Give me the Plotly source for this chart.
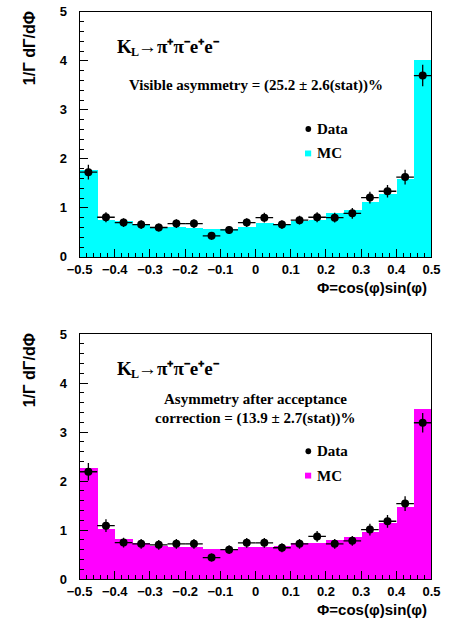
import plotly.graph_objects as go

# ---------------- data ----------------
bin_centers = [-0.475, -0.425, -0.375, -0.325, -0.275, -0.225, -0.175, -0.125, -0.075, -0.025,
               0.025, 0.075, 0.125, 0.175, 0.225, 0.275, 0.325, 0.375, 0.425, 0.475]
bin_halfwidth = [0.025] * 20

mc_top = [1.78, 0.76, 0.73, 0.68, 0.62, 0.62, 0.60, 0.57, 0.58, 0.62,
          0.70, 0.68, 0.73, 0.75, 0.89, 0.96, 1.13, 1.29, 1.60, 4.02]
data_top = [1.73, 0.81, 0.70, 0.66, 0.60, 0.68, 0.68, 0.43, 0.55, 0.70,
            0.80, 0.66, 0.75, 0.81, 0.80, 0.89, 1.21, 1.34, 1.63, 3.70]
err_top = [0.15, 0.10, 0.09, 0.09, 0.08, 0.09, 0.09, 0.08, 0.08, 0.09,
           0.10, 0.09, 0.09, 0.10, 0.10, 0.11, 0.12, 0.13, 0.15, 0.22]

mc_bot = [2.26, 1.02, 0.82, 0.74, 0.68, 0.66, 0.645, 0.62, 0.61, 0.645,
          0.65, 0.68, 0.74, 0.745, 0.79, 0.86, 0.96, 1.15, 1.48, 3.47]
data_bot = [2.19, 1.09, 0.745, 0.72, 0.70, 0.72, 0.72, 0.44, 0.60, 0.74,
            0.74, 0.64, 0.72, 0.87, 0.72, 0.78, 1.01, 1.18, 1.54, 3.19]
err_bot = [0.18, 0.13, 0.10, 0.10, 0.10, 0.10, 0.10, 0.08, 0.09, 0.10,
           0.10, 0.09, 0.10, 0.11, 0.10, 0.10, 0.12, 0.13, 0.15, 0.20]

x_tickvals = [-0.5, -0.4, -0.3, -0.2, -0.1, 0, 0.1, 0.2, 0.3, 0.4, 0.5]
x_ticktext = ["\u22120.5", "\u22120.4", "\u22120.3", "\u22120.2", "\u22120.1", "0",
              "0.1", "0.2", "0.3", "0.4", "0.5"]
y_tickvals = [0, 1, 2, 3, 4, 5]
y_ticktext = ["0", "1", "2", "3", "4", "5"]

W, H = 450, 632


def px(x):
    return x / W


def py(y):
    return 1 - y / H


SANS = "Liberation Sans, Arial, sans-serif"
SERIF = "Liberation Serif, Times New Roman, serif"

fig = go.Figure()

panels = [
    dict(mc=mc_top, data=data_top, err=err_top, color="#00FFFF", xa="x", ya="y"),
    dict(mc=mc_bot, data=data_bot, err=err_bot, color="#FF00FF", xa="x2", ya="y2"),
]

for p in panels:
    fig.add_trace(go.Bar(
        x=bin_centers, y=p["mc"], width=[0.05] * 20,
        marker=dict(color=p["color"], line=dict(width=0)),
        xaxis=p["xa"], yaxis=p["ya"], showlegend=False, name="MC",
    ))
    fig.add_trace(go.Scatter(
        x=bin_centers, y=p["data"], mode="markers",
        marker=dict(color="black", size=8, symbol="circle"),
        error_x=dict(type="data", array=bin_halfwidth, color="black", thickness=1.3, width=0),
        error_y=dict(type="data", array=p["err"], color="black", thickness=1.3, width=0),
        xaxis=p["xa"], yaxis=p["ya"], showlegend=False, name="Data",
    ))

xdom = [px(70), px(440)]
axis_common = dict(
    showline=True, linecolor="black", linewidth=1, mirror=True,
    ticks="inside", tickcolor="black", tickwidth=1,
    showgrid=False, zeroline=False,
    tickfont=dict(family=SANS, size=13, color="black", weight="bold"),
)

fig.update_layout(
    width=W, height=H, margin=dict(l=0, r=0, t=0, b=0),
    paper_bgcolor="white", plot_bgcolor="white",
    bargap=0, showlegend=False,
    xaxis=dict(domain=xdom, range=[-0.5, 0.5], anchor="y",
               tickvals=x_tickvals, ticktext=x_ticktext, ticklen=8,
               minor=dict(dtick=0.02, tick0=0, ticks="inside", ticklen=4, tickcolor="black"),
               **axis_common),
    yaxis=dict(domain=[py(256), py(5)], range=[0, 5], anchor="x",
               tickvals=y_tickvals, ticktext=y_ticktext, ticklen=8, ticklabelstandoff=9,
               minor=dict(dtick=0.2, tick0=0, ticks="inside", ticklen=4, tickcolor="black"),
               **axis_common),
    xaxis2=dict(domain=xdom, range=[-0.5, 0.5], anchor="y2",
                tickvals=x_tickvals, ticktext=x_ticktext, ticklen=8,
                minor=dict(dtick=0.02, tick0=0, ticks="inside", ticklen=4, tickcolor="black"),
                **axis_common),
    yaxis2=dict(domain=[py(586), py(335)], range=[0, 5], anchor="x2",
                tickvals=y_tickvals, ticktext=y_ticktext, ticklen=8, ticklabelstandoff=9,
                minor=dict(dtick=0.2, tick0=0, ticks="inside", ticklen=4, tickcolor="black"),
                **axis_common),
)

ann = []
shapes = []


def text(x, y, s, size, family, xanchor="center", yanchor="middle", angle=0, bold=True):
    ann.append(dict(
        x=px(x), y=py(y), xref="paper", yref="paper", text=s, showarrow=False,
        xanchor=xanchor, yanchor=yanchor, textangle=angle,
        font=dict(family=family, size=size, color="black", weight="bold" if bold else "normal"),
    ))


decay_rest = "\u2192\u03c0\u207a\u03c0\u207be\u207ae\u207b"
for off, color, lines in [
    (0, "#00FFFF", ["Visible asymmetry = (25.2 \u00b1 2.6(stat))%"]),
    (330, "#FF00FF", ["Asymmetry after acceptance", "correction = (13.9 \u00b1 2.7(stat))%"]),
]:
    text(17, 42 + off, "1/\u0393 d\u0393/d\u03a6", 16, SANS, angle=-90)
    text(437, 287 + off, "\u03a6=cos(\u03c6)sin(\u03c6)", 15, SANS, xanchor="right")
    # K_L -> pi+ pi- e+ e-
    text(107, 40 + off, "K", 19, SERIF, xanchor="left")
    text(121.5, 46 + off, "L", 12, SERIF, xanchor="left")
    text(129.5, 40 + off, decay_rest, 19, SERIF, xanchor="left")
    if len(lines) == 1:
        text(255, 80 + off, lines[0], 15, SERIF)
    else:
        text(255, 72 + off, lines[0], 15, SERIF)
        text(255, 91 + off, lines[1], 15, SERIF)
    ly_data = 125 + off
    ly_mc = 150 + off
    shapes.append(dict(type="circle", xref="paper", yref="paper",
                       x0=px(307.5), x1=px(313.5), y0=py(ly_data + 3), y1=py(ly_data - 3),
                       fillcolor="black", line=dict(width=0)))
    shapes.append(dict(type="rect", xref="paper", yref="paper",
                       x0=px(307), x1=px(313.5), y0=py(ly_mc + 3), y1=py(ly_mc - 3),
                       fillcolor=color, line=dict(width=0)))
    text(317, ly_data, "Data", 15, SERIF, xanchor="left")
    text(317, ly_mc, "MC", 15, SERIF, xanchor="left")

fig.update_layout(annotations=ann, shapes=shapes)
fig.write_html("out.html")
